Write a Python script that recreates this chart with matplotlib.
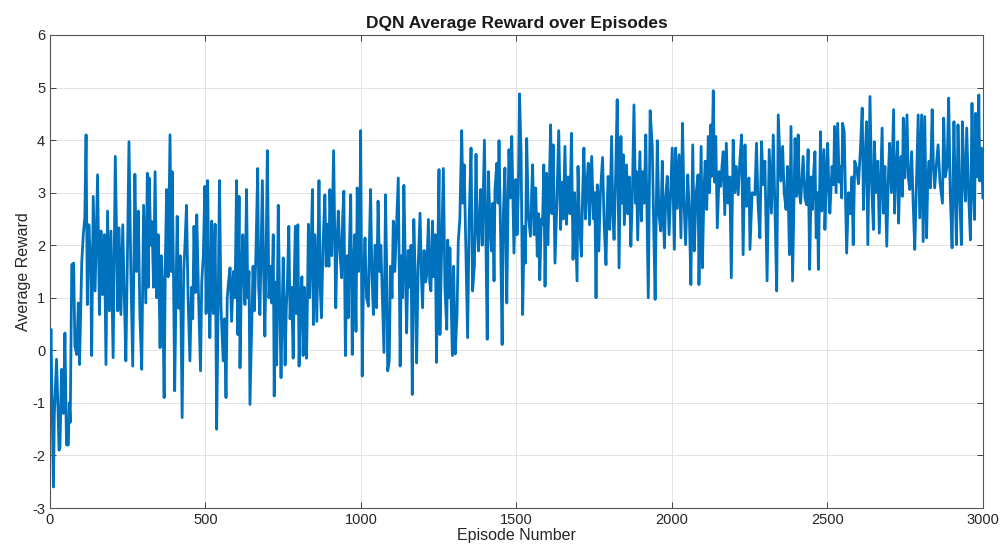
import matplotlib
matplotlib.use("Agg")
import matplotlib.pyplot as plt

# average reward per logged episode
episodes = [
    0, 3, 11, 14, 21, 25, 29, 32, 37, 43,
    48, 53, 59, 62, 65, 70, 76, 80, 86, 91,
    95, 102, 107, 112, 116, 120, 125, 131, 134, 139,
    145, 153, 159, 164, 169, 175, 180, 185, 191, 196,
    203, 210, 218, 222, 228, 234, 239, 244, 249, 254,
    260, 266, 273, 278, 284, 289, 295, 301,
    308, 313, 316, 319, 324, 328, 333, 338, 343, 348,
    354, 358, 362, 367, 371, 375, 380, 386, 390, 393,
    397, 401, 405, 409, 414, 419, 425, 430, 434, 439,
    444, 450, 455, 459, 463, 468, 472, 477, 484, 488,
    493, 498, 502, 507, 511, 514, 518, 520, 525, 531,
    536, 541, 545, 550, 557, 561, 566, 570, 574, 579,
    584, 590, 595, 600,
    604, 608, 611, 616, 620, 624, 627, 632, 636, 640,
    643, 648, 653, 657, 662, 668, 671, 675, 679, 683,
    687, 691, 695, 699, 704, 709, 713, 718, 721, 725,
    729, 734, 738, 743, 747, 750, 756, 760, 764, 768,
    772, 777, 782, 786, 789, 792, 797, 801, 805, 810,
    814, 818, 822, 825, 828, 831, 835, 840, 844, 847,
    852, 858, 862, 865, 869, 873, 878, 884, 888, 893,
    897, 900,
    906, 912, 919, 923, 927, 933, 938, 941, 945, 950,
    955, 959, 963, 967, 972, 976, 980, 984, 988, 992,
    996, 999, 1004, 1008, 1013, 1018, 1024, 1027, 1031, 1035,
    1040, 1045, 1050, 1055, 1060, 1064, 1069, 1074, 1079, 1083,
    1086, 1091, 1095, 1100, 1104, 1109, 1114, 1120, 1123, 1126,
    1130, 1134, 1138, 1143, 1147, 1152, 1157, 1161, 1165, 1170,
    1175, 1179, 1184, 1190, 1194, 1198, 1203, 1208,
    1211, 1217, 1221, 1225, 1230, 1234, 1239, 1243, 1247, 1251,
    1254, 1259, 1265, 1270, 1276, 1279, 1283, 1286, 1290, 1294,
    1298, 1303, 1309, 1313, 1318, 1324, 1328, 1332, 1337, 1343,
    1348, 1354, 1359, 1365, 1370, 1374, 1378, 1382, 1385, 1390,
    1397, 1402, 1406, 1410, 1415, 1420, 1424, 1428, 1431, 1437,
    1441, 1444, 1449, 1454, 1458, 1463, 1469, 1473, 1476, 1481,
    1485, 1492, 1498, 1502, 1506, 1510,
    1515, 1520, 1525, 1529, 1533, 1538, 1545, 1549, 1552, 1557,
    1562, 1567, 1571, 1575, 1580, 1584, 1588, 1592, 1597, 1601,
    1606, 1610, 1614, 1618, 1624, 1630, 1636, 1642, 1647, 1651,
    1656, 1661, 1666, 1672, 1677, 1682, 1687, 1695, 1698, 1703,
    1709, 1713, 1717, 1722, 1727, 1731, 1735, 1742, 1748, 1752,
    1756, 1760, 1765, 1770, 1777, 1782, 1788, 1792, 1795, 1800,
    1806, 1810, 1814, 1819, 1824,
    1830, 1836, 1840, 1844, 1847, 1854, 1858, 1863, 1868, 1873,
    1878, 1883, 1886, 1890, 1897, 1902, 1906, 1911, 1916, 1920,
    1924, 1930, 1937, 1941, 1946, 1950, 1953, 1958, 1964, 1969,
    1972, 1976, 1980, 1985, 1991, 1996, 2001, 2008, 2012, 2017,
    2023, 2029, 2034, 2039, 2044, 2051, 2056, 2061, 2067, 2072,
    2078, 2084, 2087, 2094, 2098, 2103, 2107, 2112, 2117, 2121,
    2125, 2128,
    2133, 2137, 2141, 2146, 2152, 2157, 2161, 2165, 2170, 2175,
    2180, 2186, 2191, 2197, 2202, 2207, 2213, 2218, 2224, 2229,
    2235, 2240, 2244, 2248, 2251, 2258, 2267, 2272, 2277, 2283,
    2288, 2294, 2299, 2306, 2313, 2320, 2326, 2331, 2337, 2342,
    2350, 2356, 2361, 2367, 2372, 2378, 2383, 2388, 2396, 2401,
    2406, 2410, 2414, 2422, 2428, 2433, 2438, 2443,
    2448, 2452, 2456, 2460, 2464, 2468, 2471, 2478, 2482, 2489,
    2492, 2497, 2501, 2505, 2508, 2515, 2520, 2523, 2528, 2533,
    2538, 2542, 2546, 2549, 2554, 2558, 2562, 2568, 2574, 2579,
    2583, 2588, 2595, 2600, 2606, 2612, 2616, 2621, 2626, 2630,
    2637, 2642, 2648, 2651, 2657, 2662, 2667, 2672, 2676, 2680,
    2685, 2691, 2696, 2700, 2706, 2713, 2716, 2720, 2726, 2729,
    2733, 2737, 2741,
    2744, 2749, 2752, 2756, 2760, 2765, 2771, 2776, 2781, 2787,
    2792, 2797, 2803, 2808, 2813, 2819, 2823, 2827, 2831, 2837,
    2841, 2845, 2850, 2856, 2862, 2870, 2874, 2879, 2885, 2890,
    2895, 2901, 2907, 2911, 2915, 2920, 2925, 2931, 2934, 2940,
    2944, 2948, 2954, 2960, 2965, 2970, 2973, 2977, 2982, 2987,
    2990, 2995, 3000,
]

avg_reward = [
    -0.6, 0.4, -2.6, -1.2, -0.17, -0.96, -1.9, -1.85, -0.36, -1.2,
    0.33, -1.8, -1.8, -1.0, -1.37, 1.63, 1.66, 0.08, -0.08, 0.9,
    -0.27, 1.66, 2.2, 2.53, 4.1, 0.87, 2.39, 1.57, -0.1, 2.93,
    1.13, 3.34, 0.68, 2.27, 1.06, 2.2, -0.27, 2.65, 0.75, 2.27,
    -0.14, 3.69, 0.75, 2.33, 0.68, 2.39, 1.0, -0.2, 1.8, 3.97,
    1.5, -0.3, 3.35, 1.5, 2.65, 0.68, -0.36, 2.76,
    0.9, 3.37, 1.2, 3.28, 2.0, 2.45, 1.2, 3.4, 1.0, 2.2,
    0.05, 1.8, 1.3, -0.9, 1.7, 3.06, 1.4, 4.1, 1.5, 3.4,
    1.5, -0.77, 1.0, 2.55, 0.8, 1.8, -1.28, 1.5, 2.0, 2.76,
    1.0, -0.2, 1.2, 0.6, 2.36, 1.1, 2.58, 1.2, -0.39, 1.3,
    1.8, 3.12, 0.7, 3.23, 1.3, 0.24, 1.5, 2.46, 0.7, 2.4,
    -1.5, 1.0, 3.23, 0.8, -0.2, 0.6, -0.9, 1.0, 1.3, 1.57,
    0.55, 1.5, 1.0, 3.23,
    0.3, 2.93, -0.33, 1.5, 2.2, 1.3, 0.87, 3.06, 1.0, 1.5,
    -1.03, 0.3, 1.6, 0.75, 1.8, 3.46, 1.2, 0.68, 2.0, 3.23,
    1.5, 0.27, 1.8, 3.8, 1.0, 1.6, 0.9, 2.2, -0.87, 1.3,
    -0.28, 2.76, 1.1, -0.52, 0.9, 1.76, -0.28, 0.8, 1.4, 2.36,
    0.6, 1.2, -0.15, 1.5, 2.36, 0.7, 2.39, -0.3, 0.9, 1.4,
    -0.1, 1.2, 0.5, -0.15, 1.0, 2.4, 1.0, 2.0, 3.06, 0.49,
    2.2, 0.55, 2.0, 3.23, 1.2, 0.62, 2.0, 2.96, 1.6, 2.4,
    1.6, 3.06,
    1.8, 3.8, 0.81, 2.0, 2.65, 1.8, 1.38, 2.5, 3.03, -0.1,
    1.8, 0.62, 2.0, 2.96, -0.08, 1.6, 2.2, 0.36, 3.09, 1.5,
    2.0, 4.18, -0.49, 1.3, 2.14, 1.0, 0.84, 2.0, 3.06, 1.5,
    0.68, 2.0, 0.81, 2.84, 1.5, 2.0, 1.0, -0.04, 2.96, 1.4,
    -0.39, -0.2, 1.6, 1.0, 2.46, 1.5, 2.3, 3.28, 1.6, -0.3,
    1.8, 1.0, 3.14, 1.5, 0.33, 1.9, 1.2, 2.0, -0.84, 2.49,
    1.3, -0.24, 1.6, 2.61, 1.5, 0.81, 1.9, 1.3,
    1.41, 2.49, 1.3, 1.13, 2.46, 1.4, 2.2, -0.23, 1.8, 3.44,
    0.3, 1.8, 3.46, 1.2, 0.4, 2.1, 1.0, 1.95, 0.9, -0.1,
    1.6, -0.07, 0.68, 2.07, 2.5, 4.18, 2.8, 3.53, 2.0, 0.24,
    2.5, 3.85, 1.13, 1.63, 3.73, 2.4, 1.89, 2.6, 3.06, 2.0,
    4.0, 2.0, 0.21, 3.4, 2.4, 1.89, 2.8, 1.32, 3.06, 3.56,
    2.8, 3.99, 2.2, 0.11, 2.6, 3.47, 0.9, 2.8, 3.82, 2.9,
    4.07, 1.85, 3.25, 2.2, 3.0, 4.88,
    3.72, 0.68, 2.36, 1.66, 4.03, 2.6, 2.17, 3.0, 3.53, 2.2,
    3.09, 1.79, 2.6, 1.34, 2.5, 2.4, 3.53, 1.22, 3.37, 2.01,
    3.2, 4.29, 2.6, 3.91, 1.66, 2.8, 4.18, 2.3, 3.2, 2.5,
    3.88, 2.4, 3.3, 2.6, 4.13, 1.73, 3.0, 1.32, 3.5, 2.4,
    1.79, 3.0, 3.85, 2.5, 3.2, 3.56, 2.39, 3.69, 2.5, 3.0,
    1.0, 3.15, 1.89, 3.0, 3.67, 2.4, 1.63, 2.8, 3.31, 2.3,
    4.07, 2.6, 2.11, 3.3, 4.77,
    1.57, 4.07, 2.8, 3.72, 2.39, 3.53, 2.6, 3.3, 1.98, 3.0,
    4.67, 2.8, 3.4, 2.1, 3.78, 2.46, 3.4, 2.8, 4.1, 2.5,
    1.0, 4.56, 3.85, 2.5, 0.97, 2.8, 3.99, 2.6, 2.27, 3.6,
    2.6, 1.95, 2.9, 3.31, 2.2, 3.0, 3.85, 1.92, 3.85, 2.7,
    3.72, 2.14, 4.32, 2.8, 2.01, 3.34, 2.6, 1.25, 3.91, 1.89,
    3.0, 3.34, 1.25, 3.88, 1.57, 3.0, 3.6, 2.68, 4.07, 3.0,
    4.29, 3.31,
    4.94, 3.2, 4.07, 2.33, 3.4, 3.12, 3.5, 3.78, 2.58, 3.94,
    2.8, 3.3, 1.38, 4.0, 3.0, 3.5, 2.96, 3.56, 4.1, 1.82,
    3.91, 2.74, 3.2, 3.28, 1.92, 3.0, 2.96, 3.94, 2.8, 2.14,
    3.97, 3.15, 3.6, 1.32, 3.82, 2.61, 4.1, 2.8, 1.13, 4.48,
    3.22, 3.88, 3.0, 2.68, 3.5, 1.82, 4.26, 1.32, 4.03, 2.93,
    4.1, 3.0, 2.8, 3.69, 2.9, 2.77, 3.82, 1.54,
    3.3, 2.68, 3.4, 3.78, 2.14, 3.0, 1.54, 4.16, 2.65, 3.82,
    2.3, 3.3, 3.94, 3.0, 2.61, 3.5, 3.15, 4.26, 3.0, 4.32,
    3.2, 3.5, 2.9, 4.32, 4.16, 3.0, 1.85, 3.0, 2.6, 3.3,
    2.01, 3.6, 3.44, 3.17, 3.8, 4.61, 2.68, 3.6, 4.35, 2.01,
    4.83, 3.2, 2.3, 3.97, 3.0, 3.6, 2.23, 3.3, 4.23, 2.61,
    3.5, 1.98, 3.3, 3.94, 3.0, 4.58, 2.61, 3.3, 3.97, 2.42,
    3.3, 3.69, 2.93,
    4.42, 3.28, 3.8, 4.48, 3.3, 3.06, 3.78, 2.77, 1.92, 3.3,
    4.48, 2.52, 4.48, 2.07, 4.45, 2.14, 3.3, 3.6, 3.09, 4.58,
    3.5, 3.09, 3.5, 3.91, 3.2, 2.8, 4.42, 3.3, 3.5, 4.8,
    3.0, 1.95, 4.35, 3.0, 2.01, 4.29, 3.0, 2.01, 4.35, 3.2,
    2.84, 4.23, 3.0, 2.1, 4.7, 3.0, 2.49, 4.51, 3.3, 4.86,
    3.22, 3.85, 2.9,
]

x_ticks = [0, 500, 1000, 1500, 2000, 2500, 3000]
y_ticks = [-3, -2, -1, 0, 1, 2, 3, 4, 5, 6]

plt.rcParams['font.family'] = ['Liberation Sans', 'DejaVu Sans']
plt.rcParams['axes.unicode_minus'] = False

fig = plt.figure(figsize=(10.02, 5.51), dpi=100)
ax = fig.add_axes([0.0499, 0.078, 0.931, 0.8585])

ax.plot(episodes, avg_reward, color='#0072BD', linewidth=2.0, zorder=3)

ax.set_xlim(0, 3000)
ax.set_ylim(-3, 6)
ax.set_xticks(x_ticks)
ax.set_yticks(y_ticks)
ax.tick_params(direction='in', top=True, right=True, length=4, width=0.7,
               colors='#404040', labelcolor='#262626', labelsize=10.5)
ax.grid(True, color='#e3e3e3', linewidth=0.7, zorder=0)
for sp in ax.spines.values():
    sp.set_color('#555555')
    sp.set_linewidth(0.8)

ax.set_title('DQN Average Reward over Episodes', fontsize=12.5,
             fontweight='bold', color='#1a1a1a', pad=5)
ax.set_xlabel('Episode Number', fontsize=11.5, color='#262626', labelpad=1)
ax.set_ylabel('Average Reward', fontsize=11.5, color='#262626', labelpad=1)

fig.savefig('out.png', dpi=100, facecolor='white')
